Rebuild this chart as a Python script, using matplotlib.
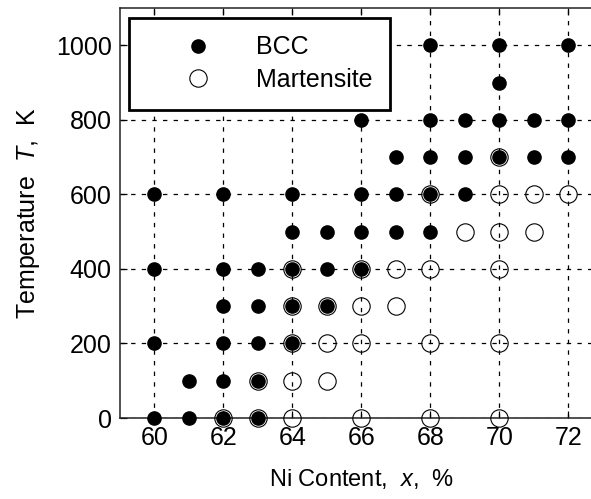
import matplotlib.pyplot as plt

plt.rcParams['font.family'] = ['Liberation Sans', 'DejaVu Sans']
plt.rcParams['mathtext.fontset'] = 'custom'
plt.rcParams['mathtext.it'] = 'Liberation Sans:italic'
plt.rcParams['mathtext.rm'] = 'Liberation Sans'

# BCC phase observations: Ni content (%) and temperature (K)
bcc_ni = [68, 70, 72,
          70,
          66, 68, 69, 70, 71, 72,
          67, 68, 69, 70, 71, 72,
          60, 62, 64, 66, 67, 68, 69,
          64, 65, 66, 67, 68,
          60, 62, 63, 64, 65, 66,
          62, 63, 64, 65,
          60, 62, 63, 64,
          61, 62, 63,
          60, 61, 62, 63]
bcc_t = [1000, 1000, 1000,
         900,
         800, 800, 800, 800, 800, 800,
         700, 700, 700, 700, 700, 700,
         600, 600, 600, 600, 600, 600, 600,
         500, 500, 500, 500, 500,
         400, 400, 400, 400, 400, 400,
         300, 300, 300, 300,
         200, 200, 200, 200,
         100, 100, 100,
         0, 0, 0, 0]

# martensite observations
mart_ni = [70,
           68, 70, 71, 72,
           69, 70, 71,
           64, 66, 67, 68, 70,
           64, 65, 66, 67,
           64, 65, 66, 68, 70,
           63, 64, 65,
           62, 63, 64, 66, 68, 70]
mart_t = [700,
          600, 600, 600, 600,
          500, 500, 500,
          400, 400, 400, 400, 400,
          300, 300, 300, 300,
          200, 200, 200, 200, 200,
          100, 100, 100,
          0, 0, 0, 0, 0, 0]

x_ticks = [60, 62, 64, 66, 68, 70, 72]
y_ticks = [0, 200, 400, 600, 800, 1000]

fig = plt.figure(figsize=(5.91, 4.99), dpi=100)
ax = fig.add_axes([0.203, 0.1623, 0.817, 0.8216])

ax.plot(mart_ni, mart_t, 'o', ms=12.5, mfc='none', mec='black', mew=0.8,
        label='Martensite', zorder=3, clip_on=False)
ax.plot(bcc_ni, bcc_t, 'o', ms=9.5, mfc='black', mec='black',
        label='BCC', zorder=4, clip_on=False)

ax.set_xlim(59, 73)
ax.set_ylim(0, 1100)
ax.set_xticks(x_ticks)
ax.set_yticks(y_ticks)
ax.grid(True, color='black', linestyle=(0, (3.5, 5)), linewidth=0.9)
ax.set_axisbelow(True)
ax.tick_params(direction='in', length=5, width=0.9, labelsize=18,
               top=True, right=True, pad=6)
for sp in ax.spines.values():
    sp.set_linewidth(1.1)
    sp.set_color('#222222')

ax.set_xlabel(r'Ni Content,  $x$,  %', fontsize=17, labelpad=12)
ax.set_ylabel(r'Temperature  $T$,  K', fontsize=18, labelpad=10)

handles, labels = ax.get_legend_handles_labels()
leg = ax.legend(handles[::-1], labels[::-1], loc='upper left',
                bbox_to_anchor=(0.0186, 0.976), fontsize=18, frameon=True,
                fancybox=False, edgecolor='black', framealpha=1,
                borderpad=0.7, handletextpad=0.3, handlelength=4.1,
                labelspacing=0.35, borderaxespad=0)
leg.get_frame().set_linewidth(2)

fig.savefig('out.png', dpi=100)
